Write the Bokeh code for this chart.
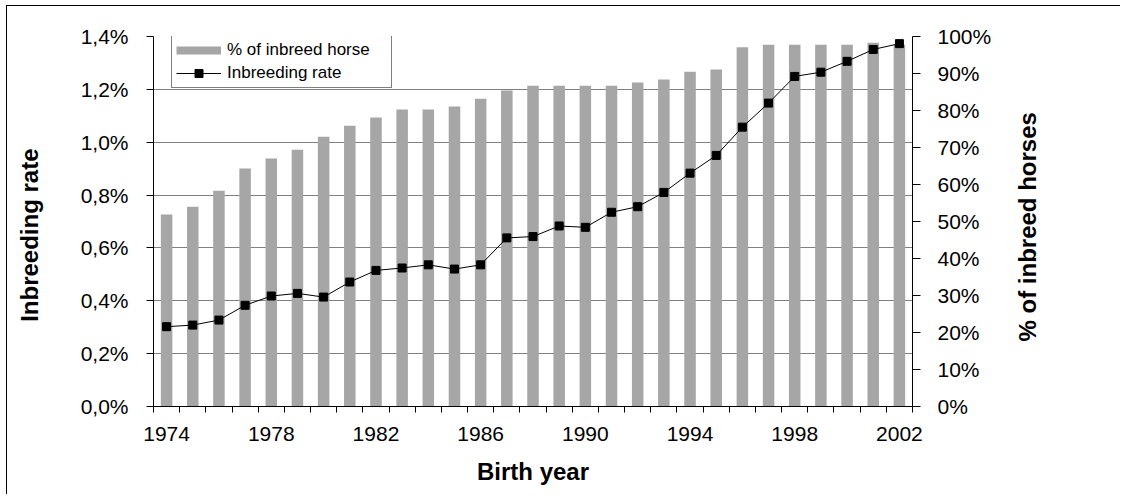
import math
from bokeh.plotting import figure
from bokeh.layouts import row
from bokeh.models import (Range1d, LinearAxis, FixedTicker, CustomJSTickFormatter,
                          PrintfTickFormatter, Legend, LegendItem)
from bokeh.core.properties import value
from bokeh.embed import file_html
from bokeh.resources import INLINE

# ---- data ----
years = list(range(1974, 2003))
pct_inbred = [51.9, 54.0, 58.3, 64.3, 67.0, 69.4, 72.9, 75.9, 78.1, 80.3,
              80.3, 81.1, 83.2, 85.4, 86.7, 86.7, 86.7, 86.7, 87.6, 88.4,
              90.5, 91.1, 97.1, 97.8, 97.8, 97.8, 97.8, 98.3, 97.8]
inbreeding_rate = [0.302, 0.308, 0.327, 0.383, 0.418, 0.428, 0.414, 0.471, 0.515, 0.524,
                   0.536, 0.520, 0.536, 0.638, 0.643, 0.683, 0.678, 0.735, 0.756, 0.810,
                   0.883, 0.950, 1.057, 1.148, 1.249, 1.265, 1.306, 1.351, 1.373]
x_tick_years = [1974, 1978, 1982, 1986, 1990, 1994, 1998, 2002]
left_ticks = [0.0, 0.2, 0.4, 0.6, 0.8, 1.0, 1.2, 1.4]
right_ticks = [0, 10, 20, 30, 40, 50, 60, 70, 80, 90, 100]

FONT = "Liberation Sans"
BAR_COLOR = "#A6A6A6"
H = 488


def title_panel(width, text, tx, ty):
    """A narrow figure that only carries a vertical axis title (reads bottom to top)."""
    f = figure(width=width, height=H, x_range=Range1d(0, width), y_range=Range1d(0, H),
               output_backend="svg", toolbar_location=None,
               x_axis_location=None, y_axis_location=None,
               min_border_left=0, min_border_right=0, min_border_top=0, min_border_bottom=0)
    f.outline_line_color = None
    f.xgrid.visible = False
    f.ygrid.visible = False
    f.background_fill_color = "white"
    f.border_fill_color = "white"
    f.text(x=[tx], y=[ty], text=[text], angle=math.pi / 2,
           text_font=value(FONT), text_font_style="bold", text_font_size="24px",
           text_color="black", text_align="center", text_baseline="middle")
    return f


p = figure(width=933, height=H,
           x_range=Range1d(years[0] - 0.5, years[-1] + 0.5),
           y_range=Range1d(left_ticks[0], left_ticks[-1]),
           output_backend="svg", toolbar_location=None,
           min_border_left=86, min_border_top=30,
           min_border_right=88, min_border_bottom=88)
p.extra_y_ranges = {"pct": Range1d(right_ticks[0], right_ticks[-1])}
p.outline_line_color = None
p.background_fill_color = "white"
p.border_fill_color = "white"

bars = p.vbar(x=years, top=pct_inbred, bottom=0, width=0.44, y_range_name="pct",
              fill_color=BAR_COLOR, line_color=None)
line_r = p.line(years, inbreeding_rate, line_color="black", line_width=1)
mark_r = p.scatter(years, inbreeding_rate, marker="square", size=8,
                   fill_color="black", line_color="black")
# legend key for the bars (a single-point line draws nothing in the plot)
bar_key = p.line(x=years[:1], y=inbreeding_rate[:1], line_color=BAR_COLOR, line_width=8)

# grid
p.xgrid.visible = False
p.ygrid.ticker = FixedTicker(ticks=left_ticks)
p.ygrid.grid_line_color = "#808080"
p.ygrid.grid_line_width = 1

# x axis
xa = p.xaxis[0]
xa.ticker = FixedTicker(ticks=x_tick_years,
                        minor_ticks=[y - 0.5 for y in years] + [years[-1] + 0.5])
xa.major_tick_out = 0
xa.major_tick_in = 0
xa.minor_tick_out = 6
xa.minor_tick_in = 0
xa.minor_tick_line_color = "black"
xa.axis_line_color = "black"
xa.major_label_text_font = FONT
xa.major_label_text_font_size = "21px"
xa.major_label_text_color = "black"
xa.major_label_standoff = 14
xa.axis_label = "Birth year"
xa.axis_label_text_font = FONT
xa.axis_label_text_font_style = "bold"
xa.axis_label_text_font_size = "24px"
xa.axis_label_text_color = "black"
xa.axis_label_standoff = 14

# left axis
ya = p.yaxis[0]
ya.ticker = FixedTicker(ticks=left_ticks)
ya.formatter = CustomJSTickFormatter(code="return tick.toFixed(1).replace('.', ',') + '%';")
ya.major_tick_out = 7
ya.major_tick_in = 0
ya.minor_tick_out = 0
ya.minor_tick_in = 0
ya.axis_line_color = "black"
ya.major_tick_line_color = "black"
ya.major_label_text_font = FONT
ya.major_label_text_font_size = "21px"
ya.major_label_text_color = "black"
ya.major_label_standoff = 18

# right axis
yr = LinearAxis(y_range_name="pct", ticker=FixedTicker(ticks=right_ticks),
                formatter=PrintfTickFormatter(format="%d%%"))
yr.major_tick_out = 8
yr.major_tick_in = 0
yr.minor_tick_out = 0
yr.minor_tick_in = 0
yr.axis_line_color = "black"
yr.major_tick_line_color = "black"
yr.major_label_text_font = FONT
yr.major_label_text_font_size = "21px"
yr.major_label_text_color = "black"
yr.major_label_standoff = 17
p.add_layout(yr, "right")

legend = Legend(items=[LegendItem(label="% of inbreed horse", renderers=[bar_key]),
                       LegendItem(label="Inbreeding rate", renderers=[line_r, mark_r])],
                location=(18, 318))
legend.glyph_width = 45
legend.glyph_height = 20
legend.label_height = 20
legend.label_width = 160
legend.label_standoff = 6
legend.padding = 4
legend.spacing = 3
legend.border_line_color = "black"
legend.border_line_width = 1
legend.background_fill_color = "white"
legend.background_fill_alpha = 1
legend.label_text_font = FONT
legend.label_text_font_size = "17px"
legend.label_text_color = "black"
p.add_layout(legend)

left_title = title_panel(60, "Inbreeding rate", 22, H - 262)
right_title = title_panel(120, "% of inbreed horses", 27, H - 251)

layout = row(left_title, p, right_title, spacing=0)
layout.styles = {"margin-left": "6px", "margin-top": "5px", "margin-bottom": "-20px",
                 "border-left": "1px solid black", "border-top": "1px solid black"}

open("out.html", "w").write(file_html(layout, INLINE))
